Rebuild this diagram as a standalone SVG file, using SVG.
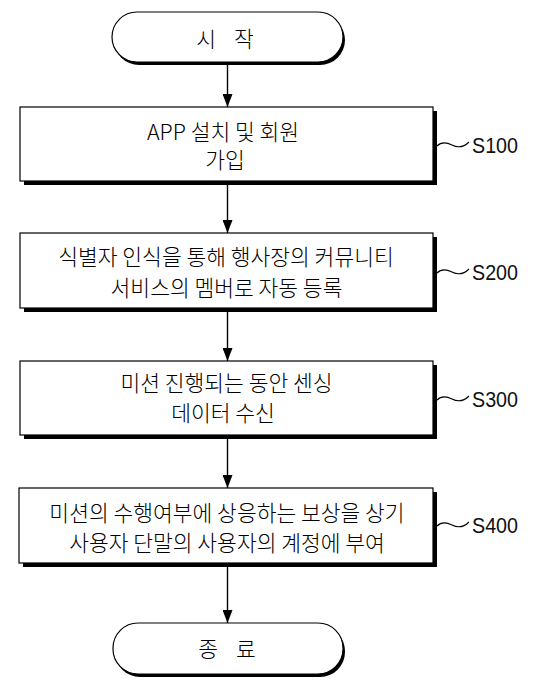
<svg xmlns="http://www.w3.org/2000/svg" width="541" height="683" viewBox="0 0 541 683">
<defs>
<style>
.bg{fill:#fff}
.sh{fill:#000}
.box{fill:#fff;stroke:#000;stroke-width:1.2}
.t{font-family:"Noto Sans CJK KR","Noto Sans",sans-serif;font-size:21.5px;font-weight:300;fill:#000;text-anchor:middle}
.lbl{font-family:"Liberation Sans","DejaVu Sans",sans-serif;font-size:22px;fill:#111}
.ln{stroke:#000;stroke-width:1.4;fill:none}
.wv{stroke:#000;stroke-width:1.1;fill:none}
</style>
<marker id="ah" markerWidth="13" markerHeight="10" refX="13" refY="5" orient="auto" markerUnits="userSpaceOnUse" viewBox="0 0 13 10">
<path d="M0,0 L13,5 L0,10 Z" fill="#000"/>
</marker>
</defs>
<rect class="bg" x="0" y="0" width="541" height="683"/>

<g id="connectors">
<line class="ln" x1="227.5" y1="65" x2="227.5" y2="107" marker-end="url(#ah)"/>
<line class="ln" x1="227.5" y1="185" x2="227.5" y2="233" marker-end="url(#ah)"/>
<line class="ln" x1="227.5" y1="312" x2="227.5" y2="361" marker-end="url(#ah)"/>
<line class="ln" x1="227.5" y1="439" x2="227.5" y2="488" marker-end="url(#ah)"/>
<line class="ln" x1="227.5" y1="567" x2="227.5" y2="623" marker-end="url(#ah)"/>
</g>

<g id="start">
<rect class="sh" x="114" y="15" width="231" height="50" rx="25"/>
<rect class="box" x="112" y="12" width="231" height="50" rx="25"/>
<text class="t" x="225" y="47" word-spacing="13">시 작</text>
</g>

<g id="S100">
<rect class="sh" x="24" y="111" width="413" height="74"/>
<rect class="box" x="20" y="107" width="413" height="74"/>
<text class="t" x="223" y="140">APP 설치 및 회원</text>
<text class="t" x="225" y="168">가입</text>
<path class="wv" d="M437,146 C441,142 446,142 452,145 C458,148 463,148 469,142"/>
<text class="lbl" x="472" y="153" textLength="46" lengthAdjust="spacingAndGlyphs">S100</text>
</g>

<g id="S200">
<rect class="sh" x="24" y="237" width="413" height="75"/>
<rect class="box" x="20" y="233" width="413" height="75"/>
<text class="t" x="226" y="265">식별자 인식을 통해 행사장의 커뮤니티</text>
<text class="t" x="226.5" y="296">서비스의 멤버로 자동 등록</text>
<path class="wv" d="M437,273 C441,269 446,269 452,272 C458,275 463,275 469,269"/>
<text class="lbl" x="472" y="280" textLength="46" lengthAdjust="spacingAndGlyphs">S200</text>
</g>

<g id="S300">
<rect class="sh" x="24" y="365" width="413" height="74"/>
<rect class="box" x="20" y="361" width="413" height="74"/>
<text class="t" x="226.5" y="391">미션 진행되는 동안 센싱</text>
<text class="t" x="223" y="421">데이터 수신</text>
<path class="wv" d="M437,400 C441,396 446,396 452,399 C458,402 463,402 469,396"/>
<text class="lbl" x="472" y="407" textLength="46" lengthAdjust="spacingAndGlyphs">S300</text>
</g>

<g id="S400">
<rect class="sh" x="23" y="492" width="414" height="75"/>
<rect class="box" x="19" y="488" width="414" height="75"/>
<text class="t" x="227" y="521">미션의 수행여부에 상응하는 보상을 상기</text>
<text class="t" x="227" y="551">사용자 단말의 사용자의 계정에 부여</text>
<path class="wv" d="M437,526 C441,522 446,522 452,525 C458,528 463,528 469,522"/>
<text class="lbl" x="472" y="533" textLength="46" lengthAdjust="spacingAndGlyphs">S400</text>
</g>

<g id="end">
<rect class="sh" x="115" y="626" width="230" height="51" rx="25"/>
<rect class="box" x="113" y="623" width="230" height="51" rx="25"/>
<text class="t" x="227" y="657" word-spacing="13">종 료</text>
</g>
</svg>
